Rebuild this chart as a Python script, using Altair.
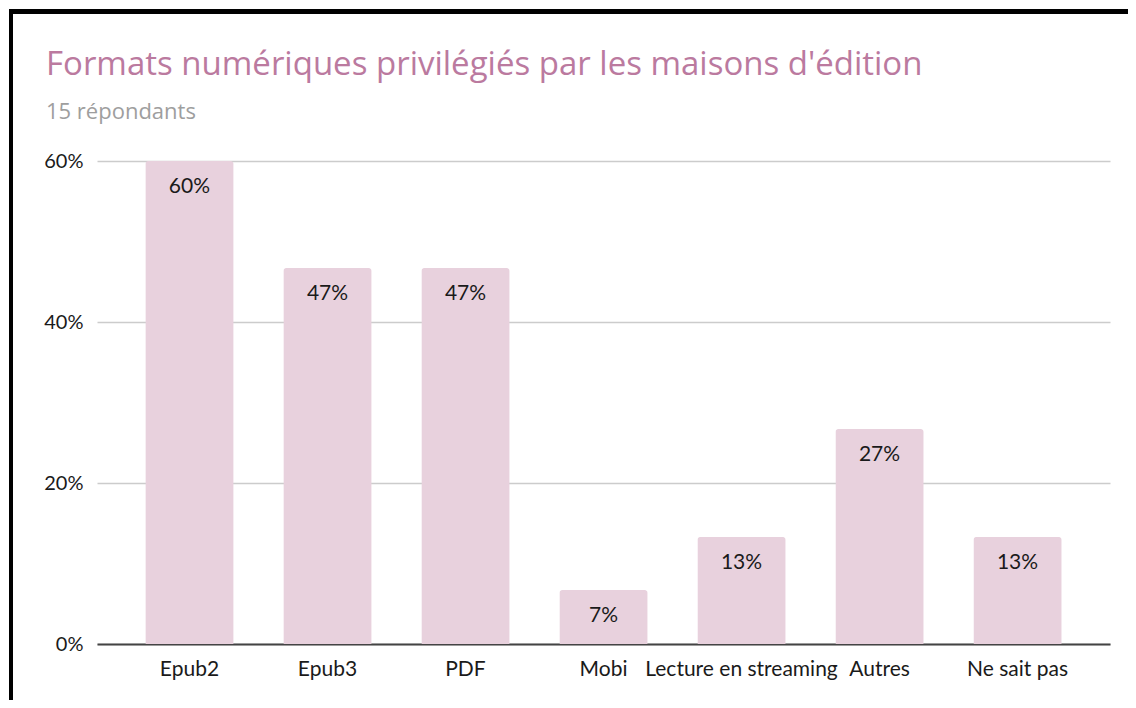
import altair as alt
import pandas as pd

categories = ["Epub2", "Epub3", "PDF", "Mobi", "Lecture en streaming", "Autres", "Ne sait pas"]
shares = [0.60, 0.467, 0.467, 0.067, 0.133, 0.267, 0.133]
y_ticks = [0, 0.2, 0.4, 0.6]

df = pd.DataFrame({"format": categories, "share": shares})

PLOT_W, PLOT_H = 1013, 483
PAD_L, PAD_T, PAD_R, PAD_B = 89, 153, 18, 56

x_enc = alt.X(
    "format:N",
    sort=categories,
    title=None,
    scale=alt.Scale(paddingInner=0.36, paddingOuter=0.35),
    axis=alt.Axis(
        labelAngle=0,
        labelFont="Lato",
        labelFontSize=21,
        labelColor="#1a1a1a",
        labelPadding=14,
        labelLimit=0,
        labelOverlap=False,
        ticks=False,
        domain=True,
        domainColor="#444444",
        domainWidth=2,
        grid=False,
    ),
)
y_enc = alt.Y(
    "share:Q",
    title=None,
    scale=alt.Scale(domain=[0, 0.6], nice=False),
    axis=alt.Axis(
        values=y_ticks,
        format=".0%",
        labelFont="Lato",
        labelFontSize=20,
        labelColor="#1a1a1a",
        labelPadding=14,
        ticks=False,
        domain=False,
        grid=True,
        gridColor="#cccccc",
        gridWidth=1.5,
    ),
)

base = alt.Chart(df)

bars = base.mark_bar(
    color="#e8d1dd", cornerRadiusTopLeft=3, cornerRadiusTopRight=3
).encode(x=x_enc, y=y_enc)

labels = base.mark_text(
    font="Lato", fontSize=21, color="#1a1a1a", baseline="middle", dy=26
).encode(
    x=alt.X("format:N", sort=categories),
    y="share:Q",
    text=alt.Text("share:Q", format=".0%"),
)

# black frame around the chart (left and top edges visible)
frame_left = alt.Chart(df).mark_rule(color="#000000", strokeWidth=4).encode(
    x=alt.value(11 - 8 - PAD_L),
    y=alt.value(11.5 - 8 - PAD_T),
    y2=alt.value(PLOT_H + PAD_B + 10),
)
frame_top = alt.Chart(df).mark_rule(color="#000000", strokeWidth=4).encode(
    x=alt.value(9 - 8 - PAD_L),
    x2=alt.value(PLOT_W + PAD_R + 5),
    y=alt.value(11.5 - 8 - PAD_T),
)

chart = (
    alt.layer(bars, labels, frame_left, frame_top)
    .properties(
        width=PLOT_W,
        height=PLOT_H,
        background="#ffffff",
        autosize=alt.AutoSizeParams(type="none"),
        padding={"left": PAD_L, "top": PAD_T, "right": PAD_R, "bottom": PAD_B},
        title=alt.TitleParams(
            text="Formats numériques privilégiés par les maisons d'édition",
            subtitle="15 répondants",
            anchor="start",
            frame="group",
            dx=-51,
            dy=113,
            offset=0,
            font="Open Sans",
            fontSize=33,
            fontWeight="normal",
            color="#bb7a9f",
            subtitleFont="Open Sans",
            subtitleFontSize=22,
            subtitleColor="#9e9e9e",
            subtitlePadding=20,
        ),
    )
    .configure_view(stroke=None, strokeWidth=0)
)

chart.save("out.html", embed_options={"renderer": "svg", "actions": False})
